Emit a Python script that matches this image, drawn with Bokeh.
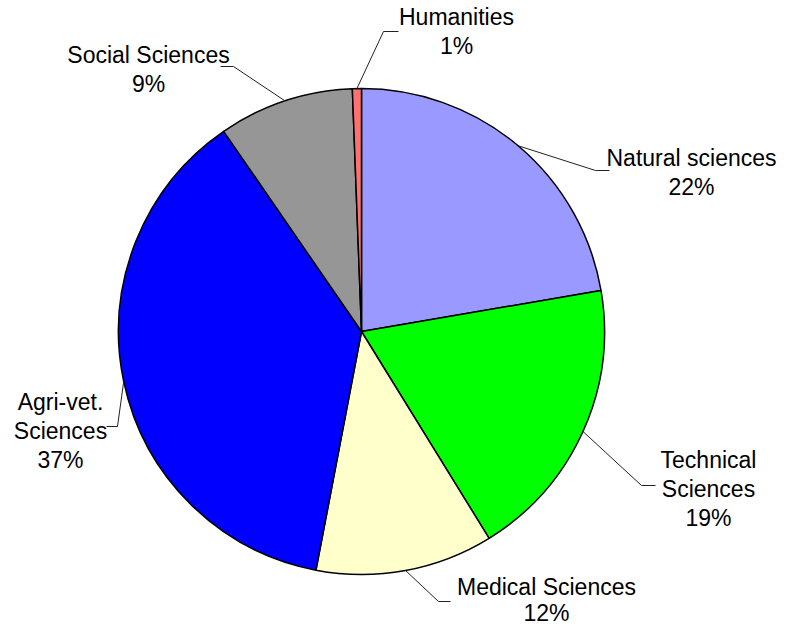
import numpy as np
from bokeh.plotting import figure
from bokeh.models import Range1d, ColumnDataSource
from bokeh.core.properties import value
from bokeh.embed import file_html
from bokeh.resources import INLINE

# ---- data ----
categories = ["Natural sciences", "Technical Sciences", "Medical Sciences",
              "Agri-vet. Sciences", "Social Sciences", "Humanities"]
shares = [22.3, 18.9, 11.8, 37.4, 9.0, 0.6]
label_lines = [["Natural sciences"], ["Technical", "Sciences"], ["Medical Sciences"],
               ["Agri-vet.", "Sciences"], ["Social Sciences"], ["Humanities"]]
colors = ["#9999FF", "#00FF00", "#FFFFCC", "#0000FF", "#969696", "#FF7070"]

# ---- layout (pixel-based data units, pie centre at 0,0) ----
W, H = 778, 628
CX, CY = 361, 331          # pie centre in figure pixels
R = 243
# label text centre x, first-line y, line spacing, leader elbow, leader end
label_layout = [
    dict(x=330, y=174, dy=29, elbow=(234, 161), end=(248, 161)),
    dict(x=347, y=-128, dy=29, elbow=(280, -154), end=(294, -154)),
    dict(x=185, y=-255, dy=26, elbow=(77, -270), end=(89, -270)),
    dict(x=-301, y=-70, dy=29, elbow=(-244, -95), end=(-255, -95)),
    dict(x=-213, y=277, dy=29, elbow=(-128, 265), end=(-141, 265)),
    dict(x=95, y=315, dy=29, elbow=(22, 300), end=(37, 300)),
]

fr = np.array(shares) / sum(shares)
cum = np.concatenate([[0], np.cumsum(fr)])
start = np.pi / 2 - 2 * np.pi * cum[:-1]
end = np.pi / 2 - 2 * np.pi * cum[1:]
mid = (start + end) / 2

p = figure(width=W, height=H, output_backend="svg", toolbar_location=None,
           x_range=Range1d(-CX, W - CX), y_range=Range1d(-(H - CY), CY),
           min_border=0)
p.axis.visible = False
p.grid.visible = False
p.outline_line_color = None
p.background_fill_color = "white"

src = ColumnDataSource(dict(start=start, end=end, color=colors, cat=categories))
p.wedge(x=0, y=0, radius=R, start_angle="start", end_angle="end",
        direction="clock", fill_color="color", line_color="black",
        line_width=1.5, source=src)

# leader lines
for i, lay in enumerate(label_layout):
    ex, ey = R * np.cos(mid[i]), R * np.sin(mid[i])
    p.line([ex, lay["elbow"][0], lay["end"][0]], [ey, lay["elbow"][1], lay["end"][1]],
           line_color="#222222", line_width=1)

# labels
tx, ty, tt = [], [], []
for i, lay in enumerate(label_layout):
    lines = label_lines[i] + [f"{int(shares[i] + 0.5)}%"]
    for k, t in enumerate(lines):
        tx.append(lay["x"])
        ty.append(lay["y"] - k * lay["dy"])
        tt.append(t)
p.text(x=tx, y=ty, text=tt, text_align="center", text_baseline="middle",
       text_font=value("Liberation Sans"), text_font_size="23px", text_color="black")

open("out.html", "w").write(file_html(p, INLINE))
